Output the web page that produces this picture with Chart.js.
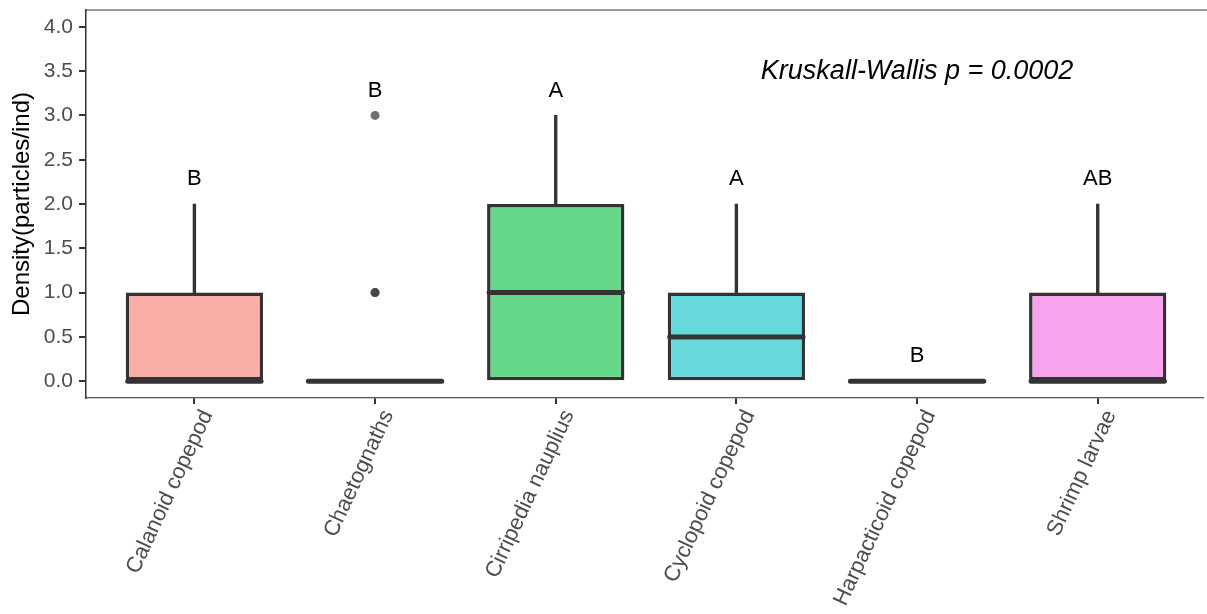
<!DOCTYPE html>
<html>
<head>
<meta charset="utf-8">
<script src="https://cdn.jsdelivr.net/npm/chart.js@4.4.1/dist/chart.umd.min.js"></script>
<style>
  html, body { margin: 0; padding: 0; background: #ffffff; overflow: hidden; }
  #wrap { width: 1207px; height: 614px; position: relative; }
</style>
</head>
<body>
<div id="wrap"><canvas id="c"></canvas></div>
<script>
// Prey groups and their box statistics (particles per individual)
const categories = ['Calanoid copepod', 'Chaetognaths', 'Cirripedia nauplius', 'Cyclopoid copepod', 'Harpacticoid copepod', 'Shrimp larvae'];
const lowerQuartile = [0, 0, 0, 0, 0, 0];
const medians = [0, 0, 1, 0.5, 0, 0];
const upperQuartile = [1, 0, 2, 1, 0, 1];
const upperWhisker = [2, 0, 3, 2, 0, 2];
// outlying observations: group index and value
const outlierGroup = [1, 1, 1];
const outlierValue = [1, 1, 3];
// compact letter display from the post-hoc test
const groupLetters = ['B', 'B', 'A', 'A', 'B', 'AB'];
const letterHeight = [2.28, 3.28, 3.28, 2.28, 0.28, 2.28];
const yTickValues = [0, 0.5, 1, 1.5, 2, 2.5, 3, 3.5, 4];
const testLabel = 'Kruskall-Wallis p = 0.0002';
const testLabelPos = { x: 4, y: 3.5 };

const fillColors = ['#FBADA7', '#D4C566', '#66D688', '#66D9DC', '#A0C4FF', '#F9A2EE'];
const ink = '#333333';
const FONT = '"Liberation Sans", Arial, sans-serif';

const boxData = categories.map((_, i) => ({ x: i, y: [lowerQuartile[i], upperQuartile[i]] }));
const whiskerData = categories
  .map((_, i) => ({ x: i, y: [upperQuartile[i], upperWhisker[i]] }))
  .filter(d => d.y[1] > d.y[0]);
const outlierData = outlierGroup.map((g, i) => ({ x: g, y: outlierValue[i] }));

// medians, letters, test annotation and the top frame line
const boxExtras = {
  id: 'boxExtras',
  afterDatasetsDraw(chart) {
    const { ctx, chartArea, scales } = chart;
    const xs = scales.x, ys = scales.y;
    const boxes = chart.getDatasetMeta(0).data;
    ctx.save();
    ctx.strokeStyle = ink;
    ctx.lineWidth = 5;
    ctx.lineCap = 'round';
    medians.forEach((m, i) => {
      const bar = boxes[i];
      const half = bar.width / 2;
      const y = ys.getPixelForValue(m);
      ctx.beginPath();
      ctx.moveTo(bar.x - half + 2, y);
      ctx.lineTo(bar.x + half - 2, y);
      ctx.stroke();
    });
    ctx.fillStyle = '#000000';
    ctx.textAlign = 'center';
    ctx.textBaseline = 'middle';
    ctx.font = '22px ' + FONT;
    groupLetters.forEach((t, i) => {
      ctx.fillText(t, xs.getPixelForValue(i), ys.getPixelForValue(letterHeight[i]));
    });
    ctx.font = 'italic 27px ' + FONT;
    ctx.fillText(testLabel, xs.getPixelForValue(testLabelPos.x), ys.getPixelForValue(testLabelPos.y));
    // frame line along the top of the panel
    ctx.strokeStyle = '#3a3a3a';
    ctx.lineWidth = 1.2;
    ctx.lineCap = 'butt';
    ctx.beginPath();
    ctx.moveTo(chartArea.left, chartArea.top);
    ctx.lineTo(chart.width, chartArea.top);
    ctx.stroke();
    ctx.restore();
  }
};

new Chart(document.getElementById('c'), {
  type: 'bar',
  data: {
    datasets: [
      {
        type: 'bar',
        data: boxData,
        backgroundColor: fillColors,
        borderColor: ink,
        borderWidth: 3.5,
        borderSkipped: false,
        barPercentage: 0.76,
        categoryPercentage: 1,
        grouped: false,
        order: 1
      },
      {
        type: 'bar',
        data: whiskerData,
        backgroundColor: ink,
        borderWidth: 0,
        barThickness: 2.7,
        grouped: false,
        order: 2
      },
      {
        type: 'scatter',
        data: outlierData,
        backgroundColor: 'rgba(51,51,51,0.7)',
        borderWidth: 0,
        pointRadius: 4.5,
        order: 0
      }
    ]
  },
  options: {
    responsive: true,
    maintainAspectRatio: false,
    animation: false,
    events: [],
    layout: { padding: { top: 10, left: 0, right: 0, bottom: 0 } },
    plugins: { legend: { display: false }, tooltip: { enabled: false } },
    scales: {
      x: {
        type: 'linear',
        min: -0.6,
        max: 5.58,
        offset: false,
        afterBuildTicks(scale) { scale.ticks = categories.map((_, i) => ({ value: i })); },
        afterFit(scale) { scale.height = 216; scale.paddingLeft = 0; scale.paddingRight = 0; },
        grid: { display: true, offset: false, drawOnChartArea: false, drawTicks: true, tickLength: 6, color: ink, lineWidth: 2 },
        border: { display: true, color: '#555555', width: 1.2 },
        ticks: {
          autoSkip: false,
          minRotation: 65,
          maxRotation: 65,
          padding: 2,
          labelOffset: 13,
          color: '#4D4D4D',
          font: { family: FONT, size: 22 },
          callback: v => categories[v]
        }
      },
      y: {
        type: 'linear',
        min: -0.19,
        max: 4.19,
        afterBuildTicks(scale) { scale.ticks = yTickValues.map(v => ({ value: v })); },
        afterFit(scale) { scale.width = 86; scale.paddingTop = 0; scale.paddingBottom = 0; },
        grid: { display: true, drawOnChartArea: false, drawTicks: true, tickLength: 7, color: ink, lineWidth: 2 },
        border: { display: true, color: ink, width: 1.5 },
        ticks: {
          padding: 6,
          color: '#4D4D4D',
          font: { family: FONT, size: 21 },
          callback: v => Number(v).toFixed(1)
        },
        title: {
          display: true,
          text: 'Density(particles/ind)',
          color: '#000000',
          font: { family: FONT, size: 24 },
          padding: { top: 8, bottom: 0 }
        }
      }
    }
  },
  plugins: [boxExtras]
});
</script>
</body>
</html>
